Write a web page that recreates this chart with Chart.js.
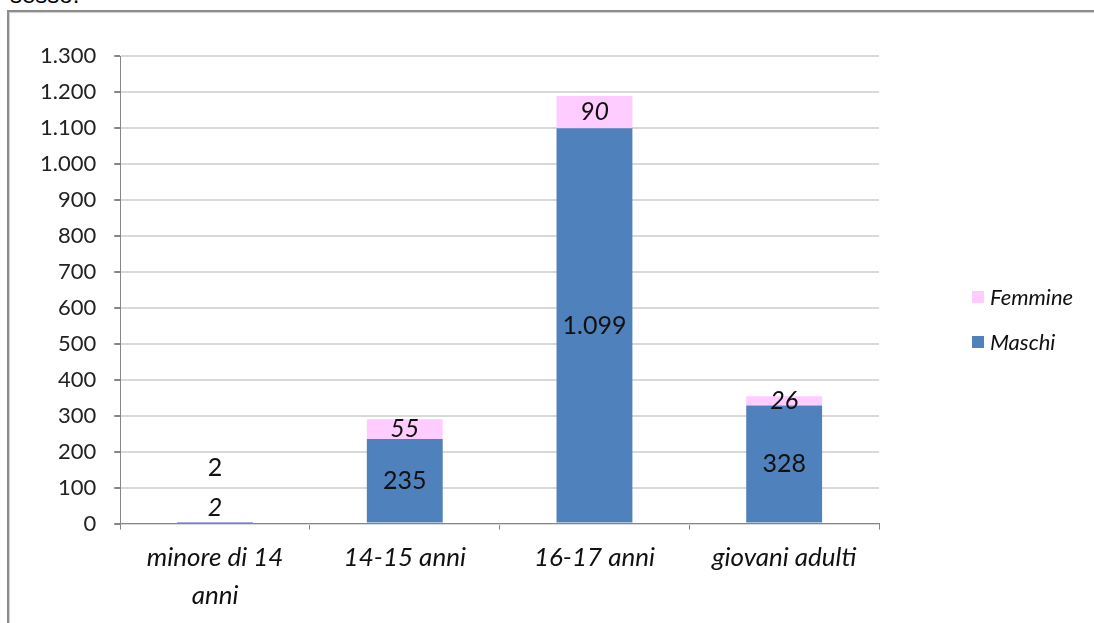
<!DOCTYPE html>
<html>
<head>
<meta charset="utf-8">
<script src="https://cdn.jsdelivr.net/npm/chart.js@4.4.1/dist/chart.umd.min.js"></script>
<style>
  html, body { margin: 0; padding: 0; background: #fff; overflow: hidden; }
  body { width: 1094px; height: 623px; position: relative; font-family: Lato, "Open Sans", sans-serif; }
  #above { position: absolute; left: 10px; top: -19px; font-size: 24px; color: #000; font-family: Arial, "Liberation Sans", sans-serif; }
  #frame {
    position: absolute; left: 7px; top: 10px; width: 1110px; height: 640px;
    border-top: 2px solid #8c8c8c; border-left: 2px solid #8c8c8c;
    box-shadow: inset 1px 1px 1px #cfcfcf;
  }
  #wrap { position: absolute; left: 0; top: 0; width: 1094px; height: 623px; }
  #legend { position: absolute; left: 972px; top: 283px; font-style: italic; font-size: 22px; color: #111; }
  #legend div { height: 45px; display: flex; align-items: flex-start; }
  #legend span.box { width: 12px; height: 12px; margin: 8px 6px 0 0; display: inline-block; }
</style>
</head>
<body>
<div id="above">sesso.</div>
<div id="frame"></div>
<div id="wrap"><canvas id="chart"></canvas></div>
<div id="legend"></div>
<script>
// categorie e valori
const categories = [['minore di 14', 'anni'], '14-15 anni', '16-17 anni', 'giovani adulti'];
const maschi = [2, 235, 1099, 328];
const femmine = [2, 55, 90, 26];

const BLUE = '#4f81bd';
const PINK = '#ffccff';
const FONT = 'Lato, "Open Sans", sans-serif';

// 1300 -> "1.300"
function fmt(v) {
  return String(v).replace(/\B(?=(\d{3})+(?!\d))/g, '.');
}

// etichette dei valori dentro le barre
const valueLabels = {
  id: 'valueLabels',
  afterDatasetsDraw(chart, args, opts) {
    const ctx = chart.ctx;
    const baseY = chart.scales.y.getPixelForValue(0);
    chart.data.datasets.forEach((ds, di) => {
      const meta = chart.getDatasetMeta(di);
      meta.data.forEach((bar, i) => {
        const h = Math.abs(bar.base - bar.y);
        let y = (bar.y + bar.base) / 2;
        if (h < 4) y = baseY - opts.smallLift[di];
        ctx.save();
        ctx.font = (ds.labelItalic ? 'italic ' : '') + '25px ' + FONT;
        ctx.fillStyle = '#111';
        ctx.textAlign = 'center';
        ctx.textBaseline = 'middle';
        ctx.fillText(fmt(ds.data[i]), bar.x, y);
        ctx.restore();
      });
    });
  }
};

const chart = new Chart(document.getElementById('chart'), {
  type: 'bar',
  data: {
    labels: categories,
    datasets: [
      { label: 'Maschi', data: maschi, backgroundColor: BLUE, labelItalic: false },
      { label: 'Femmine', data: femmine, backgroundColor: PINK, labelItalic: true }
    ]
  },
  options: {
    responsive: true,
    maintainAspectRatio: false,
    animation: false,
    datasets: { bar: { categoryPercentage: 1, barPercentage: 0.4 } },
    layout: { padding: { left: 22, top: 56, right: 215, bottom: 0 } },
    scales: {
      x: {
        stacked: true,
        grid: { drawOnChartArea: false, color: '#868686', tickLength: 6 },
        border: { color: '#868686', width: 1 },
        ticks: {
          color: '#111',
          font: { family: FONT, size: 26, style: 'italic', lineHeight: 1.45 },
          padding: 9,
          maxRotation: 0
        }
      },
      y: {
        stacked: true,
        min: 0,
        max: 1300,
        grid: { color: '#d9d9d9', lineWidth: 2, tickColor: '#868686', tickLength: 6 },
        border: { color: '#868686', width: 1 },
        ticks: {
          stepSize: 100,
          color: '#222',
          padding: 18,
          font: { family: FONT, size: 22 },
          callback: v => fmt(v)
        }
      }
    },
    plugins: {
      legend: { display: false },
      tooltip: { enabled: false },
      valueLabels: { smallLift: [56, 16] }
    }
  },
  plugins: [valueLabels]
});

// legenda (ordine inverso, come nel grafico originale)
const legend = document.getElementById('legend');
chart.data.datasets.slice().reverse().forEach(ds => {
  const row = document.createElement('div');
  row.innerHTML = `<span class="box" style="background:${ds.backgroundColor}"></span>${ds.label}`;
  legend.appendChild(row);
});
</script>
</body>
</html>
